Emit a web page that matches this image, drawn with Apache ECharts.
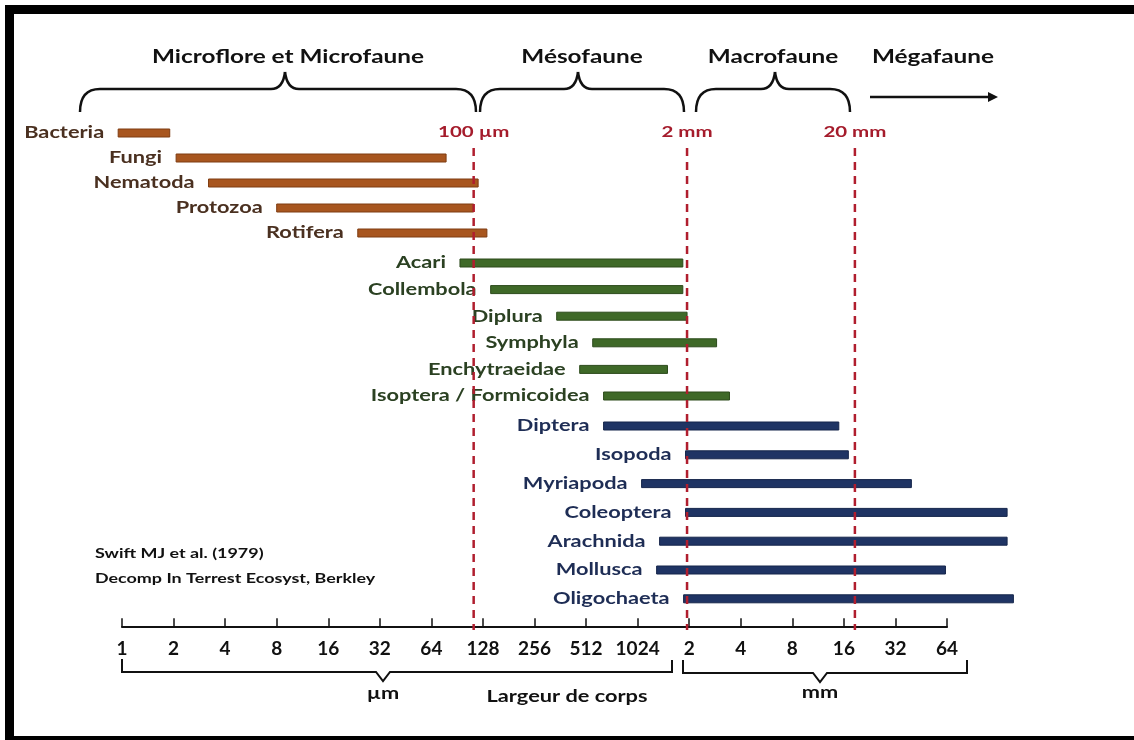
<!DOCTYPE html>
<html>
<head>
<meta charset="utf-8">
<script src="https://cdn.jsdelivr.net/npm/echarts@6/dist/echarts.min.js"></script>
<style>
  html, body { margin: 0; padding: 0; background: #fff; }
  #main { width: 1134px; height: 740px; }
</style>
</head>
<body>
<div id="main"></div>
<script>
// tailles en µm
var microNames = ['Bacteria', 'Fungi', 'Nematoda', 'Protozoa', 'Rotifera'];
var microMin = [0.95, 2.07, 3.2, 8.0, 23.8];
var microMax = [1.9, 78, 120, 113, 135];

var mesoNames = ['Acari', 'Collembola', 'Diplura', 'Symphyla', 'Enchytraeidae', 'Isoptera / Formicoidea'];
var mesoMin = [94, 142, 345, 560, 470, 648];
var mesoMax = [1880, 1880, 1990, 2960, 1530, 3520];

var macroNames = ['Diptera', 'Isopoda', 'Myriapoda', 'Coleoptera', 'Arachnida', 'Mollusca', 'Oligochaeta'];
var macroMin = [648, 1950, 1080, 1950, 1376, 1322, 1900];
var macroMax = [15300, 17400, 40600, 147000, 147000, 64200, 160000];

var tickLabels = ['1', '2', '4', '8', '16', '32', '64', '128', '256', '512', '1024', '2', '4', '8', '16', '32', '64'];

var markerNames = ['100 µm', '2 mm', '20 mm'];
var markerPos = [113, 1990, 19000];

var FONT = 'Lato, "Open Sans", sans-serif';
var SX = 1.28;

var chart = echarts.init(document.getElementById('main'));

function rows(mins, maxs) {
    var out = [];
    for (var i = 0; i < mins.length; i++) {
        out.push([Math.log2(mins[i]), Math.log2(maxs[i]), i]);
    }
    return out;
}

function barRenderer(names, color, border, textColor) {
    return function (params, api) {
        var s = api.coord([api.value(0), api.value(2)]);
        var e = api.coord([api.value(1), api.value(2)]);
        return {
            type: 'group',
            children: [{
                type: 'rect',
                shape: { x: s[0], y: s[1] - 4, width: e[0] - s[0], height: 8 },
                style: { fill: color, stroke: border, lineWidth: 1 }
            }, {
                type: 'text',
                x: s[0] - 14,
                y: s[1],
                scaleX: SX,
                style: {
                    text: names[params.dataIndex],
                    font: 'bold 17px ' + FONT,
                    fill: textColor,
                    align: 'right', textAlign: 'right',
                    verticalAlign: 'middle', textVerticalAlign: 'middle'
                }
            }]
        };
    };
}

function txt(text, x, y, size, color, align) {
    return {
        type: 'text', x: x, y: y, scaleX: SX, z: 10,
        style: {
            text: text, font: 'bold ' + size + 'px ' + FONT, fill: color,
            align: align || 'center', textAlign: align || 'center',
            verticalAlign: 'middle', textVerticalAlign: 'middle'
        }
    };
}

var braceStyle = { fill: null, stroke: '#111', lineWidth: 2.5 };

function curve(xa, ya, cx, cy, xb, yb) {
    return { type: 'bezierCurve', shape: { x1: xa, y1: ya, cpx1: cx, cpy1: cy, x2: xb, y2: yb }, style: braceStyle };
}
function seg(xa, ya, xb, yb) {
    return { type: 'line', shape: { x1: xa, y1: ya, x2: xb, y2: yb }, style: braceStyle };
}

// accolade du haut
function brace(x1, xm, x2) {
    var tip = 112, bar = 89, peak = 72;
    return {
        type: 'group', z: 10,
        children: [
            curve(x1, tip, x1, bar, x1 + 20, bar),
            seg(x1 + 20, bar, xm - 14, bar),
            curve(xm - 14, bar, xm - 2, bar, xm, peak),
            curve(xm, peak, xm + 2, bar, xm + 14, bar),
            seg(xm + 14, bar, x2 - 20, bar),
            curve(x2 - 20, bar, x2, bar, x2, tip)
        ]
    };
}

function hiddenX(i) {
    return { type: 'value', gridIndex: i, min: 0, max: 16, interval: 1, show: false };
}
function hiddenY(i, names) {
    return { type: 'category', gridIndex: i, data: names, inverse: true, show: false };
}

var option = {
    animation: false,
    backgroundColor: '#fff',
    grid: [
        { left: 122, right: 187, top: 120.5, height: 125 },
        { left: 122, right: 187, top: 249.7, height: 159.6 },
        { left: 122, right: 187, top: 411.6, height: 201.6 }
    ],
    xAxis: [hiddenX(0), hiddenX(1), {
        type: 'value', gridIndex: 2, min: 0, max: 16, interval: 1,
        offset: 14,
        splitLine: { show: false },
        axisLine: { show: true, lineStyle: { color: '#111', width: 2 } },
        axisTick: { show: true, inside: true, length: 9, lineStyle: { color: '#111', width: 1.5 } },
        axisLabel: {
            margin: 12, color: '#111', fontWeight: 'bold', fontSize: 19, fontFamily: FONT,
            formatter: function (v) { return tickLabels[v]; }
        }
    }],
    yAxis: [hiddenY(0, microNames), hiddenY(1, mesoNames), hiddenY(2, macroNames)],
    series: [{
        type: 'custom', xAxisIndex: 0, yAxisIndex: 0,
        encode: { x: [0, 1], y: 2 },
        renderItem: barRenderer(microNames, '#A8561F', '#7e3c12', '#4a3020'),
        data: rows(microMin, microMax)
    }, {
        type: 'custom', xAxisIndex: 1, yAxisIndex: 1,
        encode: { x: [0, 1], y: 2 },
        renderItem: barRenderer(mesoNames, '#3F6928', '#2c4a1b', '#2b4122'),
        data: rows(mesoMin, mesoMax)
    }, {
        type: 'custom', xAxisIndex: 2, yAxisIndex: 2,
        encode: { x: [0, 1], y: 2 },
        renderItem: barRenderer(macroNames, '#1F3464', '#15254a', '#1e2d55'),
        data: rows(macroMin, macroMax)
    }]
};
chart.setOption(option);

// éléments de décor : cadre, accolades, titres, repères pointillés
var g = [
    { type: 'rect', shape: { x: 5, y: 5, width: 1129, height: 9 }, style: { fill: '#000' } },
    { type: 'rect', shape: { x: 5, y: 5, width: 9, height: 735 }, style: { fill: '#000' } },
    { type: 'rect', shape: { x: 5, y: 736, width: 1129, height: 4 }, style: { fill: '#000' } },
    txt('Microflore et Microfaune', 288, 57, 19, '#111'),
    txt('Mésofaune', 582, 57, 19, '#111'),
    txt('Macrofaune', 773, 57, 19, '#111'),
    txt('Mégafaune', 933, 57, 19, '#111'),
    brace(80, 285, 476),
    brace(480, 578, 684),
    brace(696, 775, 850),
    { type: 'line', z: 10, shape: { x1: 870, y1: 97, x2: 990, y2: 97 }, style: { stroke: '#111', lineWidth: 2.5 } },
    { type: 'polygon', z: 10, shape: { points: [[988, 92], [998, 97], [988, 102]] }, style: { fill: '#111' } },
    { type: 'polyline', z: 10, shape: { points: [[122, 659], [122, 672], [376, 672], [383, 681], [390, 672], [672, 672], [672, 660]] },
      style: { fill: null, stroke: '#111', lineWidth: 2 } },
    { type: 'polyline', z: 10, shape: { points: [[683, 660], [683, 673], [813, 673], [820, 682], [827, 673], [967, 673], [967, 660]] },
      style: { fill: null, stroke: '#111', lineWidth: 2 } },
    txt('µm', 383, 694, 17, '#111'),
    txt('Largeur de corps', 567, 697, 17, '#111'),
    txt('mm', 820, 693, 17, '#111'),
    txt('Swift MJ et al. (1979)', 95, 553, 14, '#111', 'left'),
    txt('Decomp In Terrest Ecosyst, Berkley', 95, 578, 14, '#111', 'left')
];

for (var i = 0; i < markerPos.length; i++) {
    var px = chart.convertToPixel({ xAxisIndex: 2 }, Math.log2(markerPos[i]));
    g.push({
        type: 'line', z: 5,
        shape: { x1: px, y1: 148, x2: px, y2: 630 },
        style: { stroke: '#B01E2E', lineWidth: 2.5, lineDash: [8, 6] }
    });
    g.push(txt(markerNames[i], px, 132, 16, '#A51C2C'));
}

chart.setOption({ graphic: { elements: g } });
</script>
</body>
</html>
